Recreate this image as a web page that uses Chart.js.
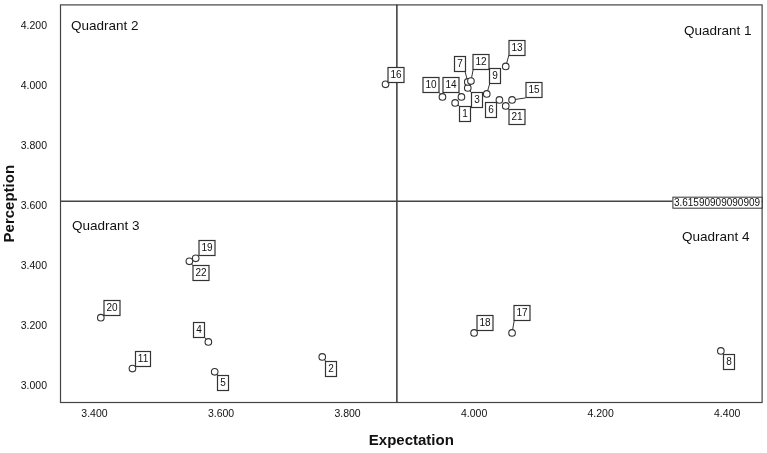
<!DOCTYPE html>
<html>
<head>
<meta charset="utf-8">
<script src="https://cdn.jsdelivr.net/npm/chart.js@4"></script>
<style>
  html, body { margin: 0; padding: 0; background: #fff; }
  #wrap { width: 767px; height: 453px; position: relative; }
</style>
</head>
<body>
<div id="wrap"><canvas id="c"></canvas></div>
<script>
// ---- data ----
const ITEM_IDS = ['1','2','3','4','5','6','7','8','9','10','11','12','13','14','15','16','17','18','19','20','21','22'];
const EXPECTATION = [3.97, 3.76, 3.99, 3.58, 3.59, 4.04, 3.99, 4.39, 4.02, 3.95, 3.46, 3.995, 4.05, 3.98, 4.06, 3.86, 4.06, 4.00, 3.56, 3.41, 4.05, 3.55];
const PERCEPTION  = [3.944, 3.096, 3.994, 3.146, 3.046, 3.954, 4.014, 3.116, 3.974, 3.964, 3.057, 4.017, 4.066, 3.964, 3.954, 4.006, 3.176, 3.176, 3.425, 3.227, 3.934, 3.415];
const X_TICKS = [3.4, 3.6, 3.8, 4.0, 4.2, 4.4];
const Y_TICKS = [3.0, 3.2, 3.4, 3.6, 3.8, 4.0, 4.2];
const MEAN_PERCEPTION = 3.61590909090909;
const MEAN_PERCEPTION_LABEL = '3.61590909090909';
const MEAN_EXPECTATION = EXPECTATION.reduce((a, b) => a + b, 0) / EXPECTATION.length;
const QUADRANT_LABELS = ['Quadrant 1', 'Quadrant 2', 'Quadrant 3', 'Quadrant 4'];
const X_TITLE = 'Expectation';
const Y_TITLE = 'Perception';

// ---- styles / layout (pixel offsets of the label boxes relative to their point) ----
const LABEL_OFFSETS = {
  '1':[9.7,10.8], '2':[8.9,12], '3':[9,12.3], '4':[-8.9,-12], '5':[8.8,11.6], '6':[-8.9,10.5],
  '7':[-8,-18], '8':[8.3,11.6], '9':[8.3,-18], '10':[-11.4,-11.9], '11':[10.8,-9.6], '12':[10.3,-19],
  '13':[11.2,-18.6], '14':[-10.9,-11.9], '15':[21.5,-9.5], '16':[10.6,-9.5], '17':[10.2,-19.7],
  '18':[11,-9.7], '19':[10.8,-10], '20':[11.1,-10.1], '21':[11.5,11.1], '22':[11.7,11.8]
};
const FONT = "'Liberation Sans', Arial, Helvetica, sans-serif";
const INK = '#333';

const points = EXPECTATION.map((x, i) => ({ x: x, y: PERCEPTION[i], id: ITEM_IDS[i] }));

const overlay = {
  id: 'overlay',
  beforeDatasetsDraw(chart) {
    const { ctx, chartArea: a, scales: { x, y } } = chart;
    ctx.save();
    // frame
    ctx.strokeStyle = '#444';
    ctx.lineWidth = 1.2;
    ctx.strokeRect(a.left + 0.5, a.top + 0.5, a.right - a.left - 1, a.bottom - a.top - 1);
    // mean lines
    const mx = x.getPixelForValue(MEAN_EXPECTATION);
    const my = y.getPixelForValue(MEAN_PERCEPTION);
    ctx.strokeStyle = '#444';
    ctx.lineWidth = 1.6;
    ctx.beginPath();
    ctx.moveTo(mx, a.top); ctx.lineTo(mx, a.bottom);
    ctx.moveTo(a.left, my); ctx.lineTo(a.right, my);
    ctx.stroke();
    // quadrant labels
    ctx.fillStyle = '#111';
    ctx.font = '13.5px ' + FONT;
    ctx.textBaseline = 'middle';
    ctx.textAlign = 'right';
    ctx.fillText(QUADRANT_LABELS[0], a.right - 11, a.top + 27);
    ctx.fillText(QUADRANT_LABELS[3], a.right - 13, my + 36);
    ctx.textAlign = 'left';
    ctx.fillText(QUADRANT_LABELS[1], a.left + 11, a.top + 22);
    ctx.fillText(QUADRANT_LABELS[2], a.left + 12, my + 25);
    // leader lines
    ctx.font = '10px ' + FONT;
    ctx.strokeStyle = INK;
    ctx.lineWidth = 1;
    points.forEach(p => {
      const px = x.getPixelForValue(p.x), py = y.getPixelForValue(p.y);
      const off = LABEL_OFFSETS[p.id];
      const w = ctx.measureText(p.id).width + 5, h = 15;
      const cx = px + off[0], cy = py + off[1];
      const qx = Math.max(cx - w / 2, Math.min(px, cx + w / 2));
      const qy = Math.max(cy - h / 2, Math.min(py, cy + h / 2));
      ctx.beginPath(); ctx.moveTo(px, py); ctx.lineTo(qx, qy); ctx.stroke();
    });
    ctx.restore();
  },
  afterDatasetsDraw(chart) {
    const { ctx, chartArea: a, scales: { x, y } } = chart;
    ctx.save();
    ctx.font = '10px ' + FONT;
    ctx.textAlign = 'center';
    ctx.textBaseline = 'middle';
    points.forEach(p => {
      const px = x.getPixelForValue(p.x), py = y.getPixelForValue(p.y);
      const off = LABEL_OFFSETS[p.id];
      const w = Math.round(ctx.measureText(p.id).width + 5), h = 15;
      const cx = Math.round(px + off[0]), cy = Math.round(py + off[1]);
      ctx.fillStyle = '#fff';
      ctx.fillRect(cx - w / 2, cy - h / 2, w, h);
      ctx.strokeStyle = INK; ctx.lineWidth = 1.2;
      ctx.strokeRect(cx - w / 2, cy - h / 2, w, h);
      ctx.fillStyle = '#111';
      ctx.fillText(p.id, cx, cy + 0.5);
    });
    // mean label box
    ctx.font = '10px ' + FONT;
    const my = y.getPixelForValue(MEAN_PERCEPTION);
    const tw = ctx.measureText(MEAN_PERCEPTION_LABEL).width;
    const bw = tw + 3, bh = 11;
    const bx = a.right - bw - 1, by = my - 4.5;
    ctx.fillStyle = '#fff';
    ctx.fillRect(bx, by, bw, bh);
    ctx.strokeStyle = INK; ctx.lineWidth = 1;
    ctx.strokeRect(bx + 0.5, by + 0.5, bw, bh);
    ctx.fillStyle = '#111';
    ctx.textAlign = 'left';
    ctx.fillText(MEAN_PERCEPTION_LABEL, bx + 1.5, by + bh / 2 + 1);
    ctx.restore();
  }
};

new Chart(document.getElementById('c'), {
  type: 'scatter',
  data: {
    datasets: [{
      data: points,
      pointRadius: 3.3,
      pointHoverRadius: 3.3,
      pointBackgroundColor: '#fff',
      pointBorderColor: INK,
      pointBorderWidth: 1.1
    }]
  },
  options: {
    responsive: true,
    maintainAspectRatio: false,
    animation: false,
    events: [],
    layout: { padding: { top: 3, right: 4, left: 0, bottom: 0 } },
    plugins: { legend: { display: false }, tooltip: { enabled: false } },
    scales: {
      x: {
        type: 'linear',
        min: 3.3455, max: 4.456,
        grid: { display: false, drawTicks: false },
        border: { display: false },
        afterBuildTicks: s => { s.ticks = X_TICKS.map(v => ({ value: v })); },
        afterFit: s => { s.height = 50; s.paddingLeft = 0; s.paddingRight = 0; },
        ticks: {
          callback: v => Number(v).toFixed(3),
          font: { size: 10.5, family: FONT },
          color: '#111',
          padding: 5,
          maxRotation: 0
        },
        title: {
          display: true, text: X_TITLE,
          font: { size: 15, weight: 'bold', family: FONT },
          color: '#111',
          padding: { top: 0, bottom: 3 }
        }
      },
      y: {
        type: 'linear',
        min: 2.942, max: 4.273,
        grid: { display: false, drawTicks: false },
        border: { display: false },
        afterBuildTicks: s => { s.ticks = Y_TICKS.map(v => ({ value: v })); },
        afterFit: s => { s.width = 60; s.paddingTop = 0; s.paddingBottom = 0; },
        ticks: {
          callback: v => Number(v).toFixed(3),
          font: { size: 10.5, family: FONT },
          color: '#111',
          padding: 13
        },
        title: {
          display: true, text: Y_TITLE,
          font: { size: 15, weight: 'bold', family: FONT },
          color: '#111',
          padding: { top: 1, bottom: 0 }
        }
      }
    }
  },
  plugins: [overlay]
});
</script>
</body>
</html>
